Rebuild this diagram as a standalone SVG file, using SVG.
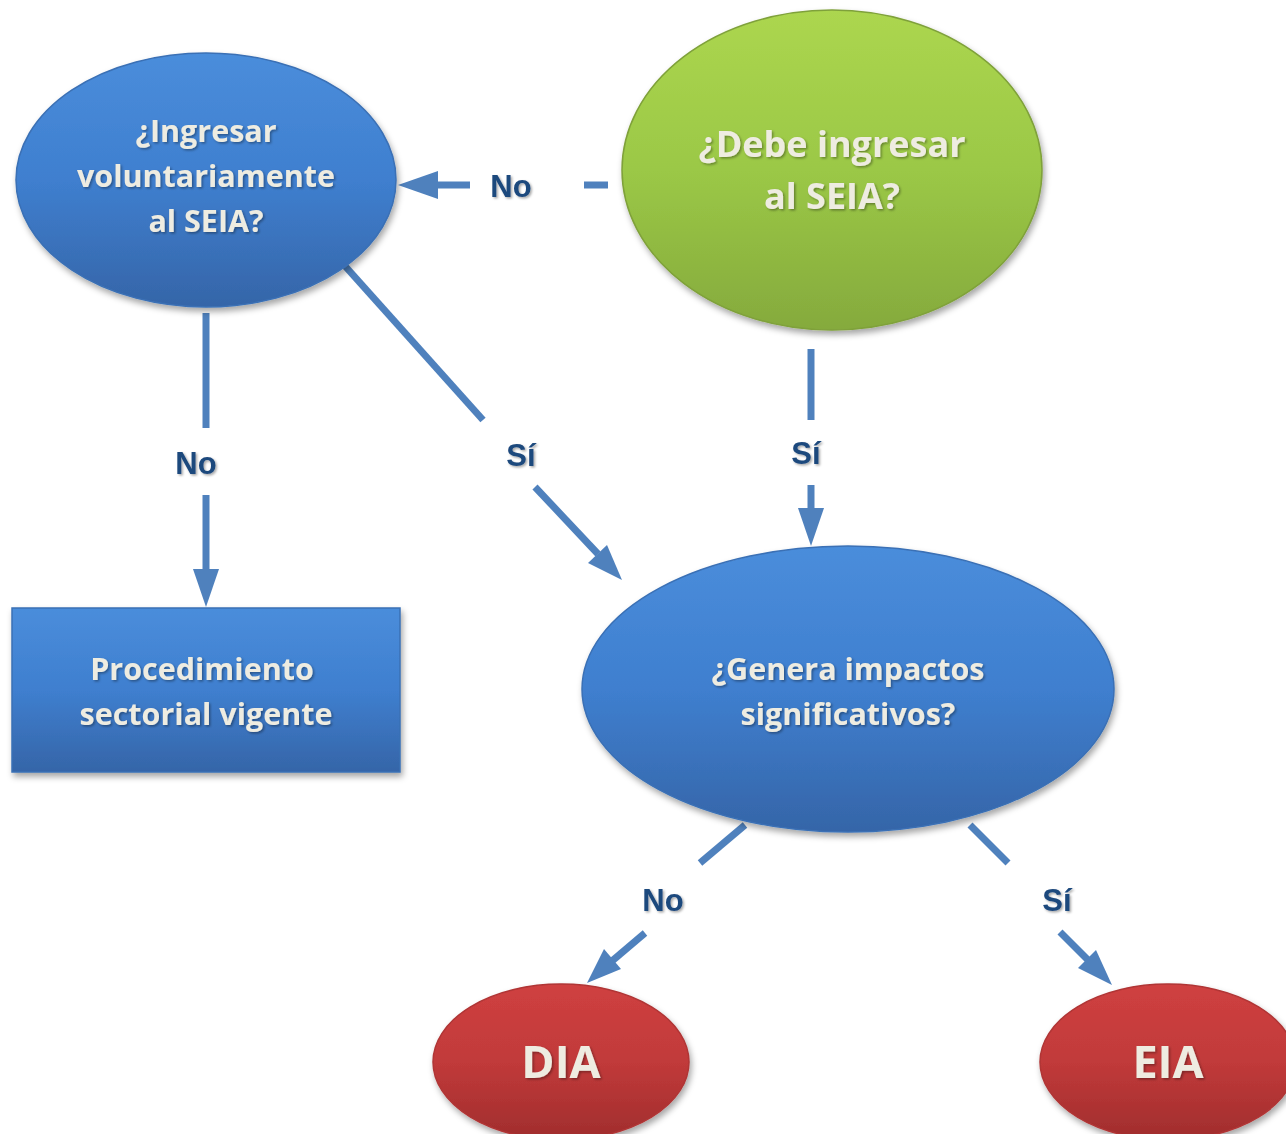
<svg xmlns="http://www.w3.org/2000/svg" width="1286" height="1134" viewBox="0 0 1286 1134">
<style>
.node text{font-family:"Open Sans",Lato,sans-serif;font-weight:bold;fill:#eeece1;text-anchor:middle;filter:url(#tsh)}
.lbl{font-family:"Liberation Sans",Arial,sans-serif;font-weight:bold;font-size:31px;fill:#1f497d;text-anchor:middle;filter:url(#tsh)}
.conn line{stroke:#4f81bd;stroke-width:7;fill:none}
.conn polygon{fill:#4f81bd}
</style>
<defs>
<linearGradient id="gb" x1="0" y1="0" x2="0" y2="1"><stop offset="0" stop-color="#4a8ddb"/><stop offset="0.5" stop-color="#3f7fcf"/><stop offset="1" stop-color="#3565a8"/></linearGradient>
<linearGradient id="gg" x1="0" y1="0" x2="0" y2="1"><stop offset="0" stop-color="#acd64f"/><stop offset="0.5" stop-color="#9bc846"/><stop offset="1" stop-color="#85aa3d"/></linearGradient>
<linearGradient id="gr" x1="0" y1="0" x2="0" y2="1"><stop offset="0" stop-color="#cf4040"/><stop offset="0.5" stop-color="#c13a3a"/><stop offset="1" stop-color="#a02d2d"/></linearGradient>
<filter id="sh" x="-10%" y="-10%" width="125%" height="130%"><feDropShadow dx="2" dy="4" stdDeviation="3" flood-color="#000" flood-opacity="0.35"/></filter>
<filter id="tsh" x="-10%" y="-20%" width="130%" height="150%"><feDropShadow dx="1.5" dy="1.5" stdDeviation="1.2" flood-color="#000" flood-opacity="0.35"/></filter>
</defs>
<rect width="1286" height="1134" fill="#fff"/>
<g class="conn" id="connectors">
<line x1="608" y1="185" x2="584" y2="185"/>
<line x1="470" y1="185" x2="432" y2="185"/>
<polygon points="398,185 438,171 438,199"/>
<line x1="206" y1="313" x2="206" y2="428"/>
<line x1="206" y1="495" x2="206" y2="575"/>
<polygon points="206,607 193,569 219,569"/>
<line x1="345" y1="266" x2="483" y2="420"/>
<line x1="535" y1="487" x2="598" y2="554"/>
<polygon points="622,580 588,563 607,545"/>
<line x1="811" y1="349" x2="811" y2="420"/>
<line x1="811" y1="485" x2="811" y2="512"/>
<polygon points="811,546 798,508 824,508"/>
<line x1="745" y1="825" x2="700" y2="863"/>
<line x1="645" y1="933" x2="612" y2="961"/>
<polygon points="587,983 604,949 621,969"/>
<line x1="970" y1="825" x2="1008" y2="863"/>
<line x1="1060" y1="932" x2="1090" y2="962"/>
<polygon points="1112,985 1078,968 1096,950"/>
<text class="lbl" x="511" y="197">No</text>
<text class="lbl" x="196" y="474">No</text>
<text class="lbl" x="521" y="466">Sí</text>
<text class="lbl" x="806" y="464">Sí</text>
<text class="lbl" x="663" y="911">No</text>
<text class="lbl" x="1057" y="911">Sí</text>
</g>
<g class="node" id="n-ingresar">
<ellipse cx="206" cy="180" rx="190" ry="127" fill="url(#gb)" stroke="#3a70b5" stroke-width="1.5" filter="url(#sh)"/>
<text font-size="30.5"><tspan x="206" y="142">¿Ingresar</tspan><tspan x="206" y="187">voluntariamente</tspan><tspan x="206" y="232">al SEIA?</tspan></text>
</g>
<g class="node" id="n-debe">
<ellipse cx="832" cy="170" rx="210" ry="160" fill="url(#gg)" stroke="#7fa13a" stroke-width="1.5" filter="url(#sh)"/>
<text font-size="36"><tspan x="832" y="157">¿Debe ingresar</tspan><tspan x="832" y="209">al SEIA?</tspan></text>
</g>
<g class="node" id="n-procedimiento">
<rect x="12" y="608" width="388" height="164" fill="url(#gb)" stroke="#3a70b5" stroke-width="1.5" filter="url(#sh)"/>
<text font-size="30.5"><tspan x="202" y="680">Procedimiento</tspan><tspan x="206" y="725">sectorial vigente</tspan></text>
</g>
<g class="node" id="n-genera">
<ellipse cx="848" cy="689" rx="266" ry="143" fill="url(#gb)" stroke="#3a70b5" stroke-width="1.5" filter="url(#sh)"/>
<text font-size="30.5"><tspan x="848" y="680">¿Genera impactos</tspan><tspan x="848" y="725">significativos?</tspan></text>
</g>
<g class="node" id="n-dia">
<ellipse cx="561" cy="1062" rx="128" ry="78" fill="url(#gr)" stroke="#b03535" stroke-width="1.5" filter="url(#sh)"/>
<text font-size="45" x="561" y="1078">DIA</text>
</g>
<g class="node" id="n-eia">
<ellipse cx="1168" cy="1062" rx="128" ry="78" fill="url(#gr)" stroke="#b03535" stroke-width="1.5" filter="url(#sh)"/>
<text font-size="45" x="1168" y="1078">EIA</text>
</g>
</svg>
